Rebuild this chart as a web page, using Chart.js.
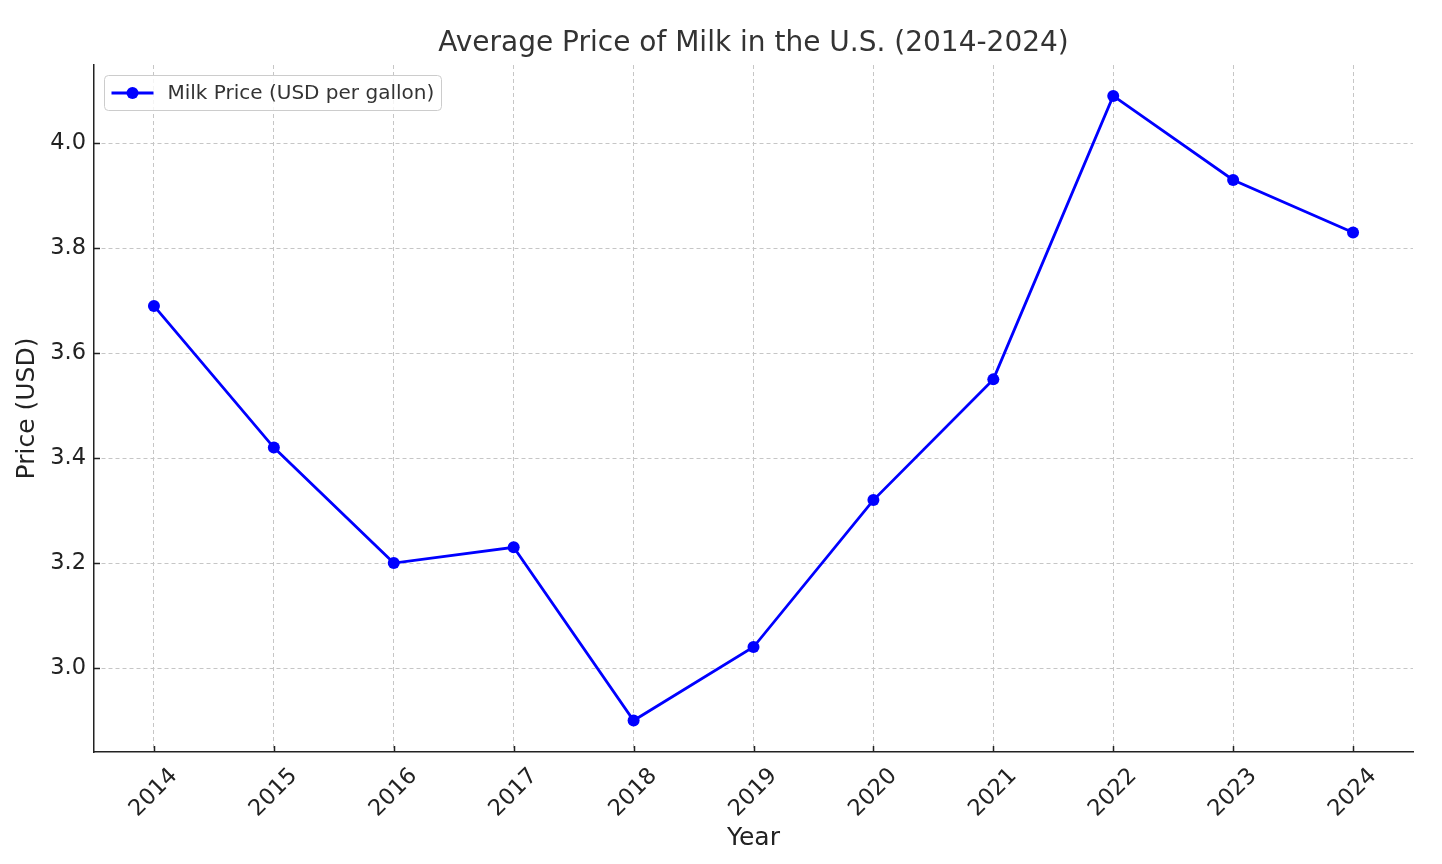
<!DOCTYPE html>
<html>
<head>
<meta charset="utf-8">
<title>Average Price of Milk in the U.S. (2014-2024)</title>
<script src="https://cdn.jsdelivr.net/npm/chart.js@4.4.1/dist/chart.umd.min.js"></script>
<style>
  html, body { margin: 0; padding: 0; background: #fff; }
  #wrap { width: 1442px; height: 864px; }
</style>
</head>
<body>
<div id="wrap"><canvas id="milkChart" width="1442" height="864"></canvas></div>
<script>
// data
var years = ["2014", "2015", "2016", "2017", "2018", "2019", "2020", "2021", "2022", "2023", "2024"];
var milkPrice = [3.69, 3.42, 3.20, 3.23, 2.90, 3.04, 3.32, 3.55, 4.09, 3.93, 3.83];
var yTicks = [3.0, 3.2, 3.4, 3.6, 3.8, 4.0];
var yMin = 2.84, yMax = 4.149;

var FONT = '"DejaVu Sans", "Liberation Sans", sans-serif';
var textColor = "#222222";

// title, inward tick marks and the boxed legend, matplotlib-style
var extras = {
	id: "extras",
	beforeDatasetsDraw: function(chart) {
		var ctx = chart.ctx, area = chart.chartArea;
		var xs = chart.scales.x, ys = chart.scales.y;
		ctx.save();
		ctx.strokeStyle = textColor;
		ctx.lineWidth = 1.5;
		ctx.beginPath();
		yTicks.forEach(function(v) {
			var y = Math.round(ys.getPixelForValue(v)) + 0.5;
			ctx.moveTo(area.left, y);
			ctx.lineTo(area.left + 6, y);
		});
		years.forEach(function(y, i) {
			var x = Math.round(xs.getPixelForTick(i)) + 0.5;
			ctx.moveTo(x, area.bottom);
			ctx.lineTo(x, area.bottom - 6);
		});
		ctx.stroke();
		ctx.restore();
	},
	afterDraw: function(chart) {
		var ctx = chart.ctx, area = chart.chartArea;
		var ds = chart.data.datasets[0];
		ctx.save();

		ctx.fillStyle = "#333333";
		ctx.font = "28px " + FONT;
		ctx.textAlign = "center";
		ctx.textBaseline = "middle";
		ctx.fillText("Average Price of Milk in the U.S. (2014-2024)", (area.left + area.right) / 2, 44);

		// legend box
		var bx = area.left + 10.5, by = area.top + 10.5, bw = 337, bh = 35;
		ctx.beginPath();
		ctx.roundRect(bx, by, bw, bh, 4);
		ctx.fillStyle = "rgba(255,255,255,0.8)";
		ctx.fill();
		ctx.strokeStyle = "#cccccc";
		ctx.lineWidth = 1;
		ctx.stroke();

		var ly = by + bh / 2;
		ctx.strokeStyle = ds.borderColor;
		ctx.lineWidth = ds.borderWidth;
		ctx.beginPath();
		ctx.moveTo(bx + 7, ly);
		ctx.lineTo(bx + 49, ly);
		ctx.stroke();
		ctx.fillStyle = ds.pointBackgroundColor;
		ctx.beginPath();
		ctx.arc(bx + 28, ly, ds.pointRadius, 0, Math.PI * 2);
		ctx.fill();

		ctx.fillStyle = "#333333";
		ctx.font = "20px " + FONT;
		ctx.textAlign = "left";
		ctx.fillText(ds.label, bx + 63, ly + 1);
		ctx.restore();
	}
};

var ctx = document.getElementById("milkChart").getContext("2d");
new Chart(ctx, {
	type: "line",
	data: {
		labels: years,
		datasets: [{
			label: "Milk Price (USD per gallon)",
			data: milkPrice,
			borderColor: "#0000ff",
			backgroundColor: "#0000ff",
			pointBackgroundColor: "#0000ff",
			pointBorderWidth: 0,
			pointRadius: 6,
			borderWidth: 2.8,
			tension: 0,
			fill: false
		}]
	},
	options: {
		responsive: false,
		animation: false,
		layout: { padding: { left: 0, right: 29, top: 65, bottom: 0 } },
		plugins: {
			legend: { display: false },
			title: { display: false },
			tooltip: { enabled: false }
		},
		scales: {
			x: {
				type: "category",
				offset: true,
				grid: { offset: false, color: "#c6c6c6", lineWidth: 1, drawTicks: false },
				border: { color: textColor, width: 1.5, dash: [4, 3] },
				ticks: {
					autoSkip: false,
					minRotation: 45,
					maxRotation: 45,
					padding: 11,
					labelOffset: 20,
					color: textColor,
					font: { family: FONT, size: 22.5 }
				},
				title: {
					display: true,
					text: "Year",
					color: textColor,
					font: { family: FONT, size: 25 },
					padding: { top: 0, bottom: 11 }
				},
				afterFit: function(scale) { scale.height = 112; }
			},
			y: {
				min: yMin,
				max: yMax,
				grid: { color: "#c6c6c6", lineWidth: 1, drawTicks: false },
				border: { color: textColor, width: 1.5, dash: [4, 3] },
				afterBuildTicks: function(scale) {
					scale.ticks = yTicks.map(function(v) { return { value: v }; });
				},
				ticks: {
					padding: 8,
					color: textColor,
					font: { family: FONT, size: 22.5 },
					callback: function(v) { return Number(v).toFixed(1); }
				},
				title: {
					display: true,
					text: "Price (USD)",
					color: textColor,
					font: { family: FONT, size: 25 },
					padding: { top: 12, bottom: 0 }
				},
				afterFit: function(scale) { scale.width = 94; }
			}
		}
	},
	plugins: [extras]
});
</script>
</body>
</html>
